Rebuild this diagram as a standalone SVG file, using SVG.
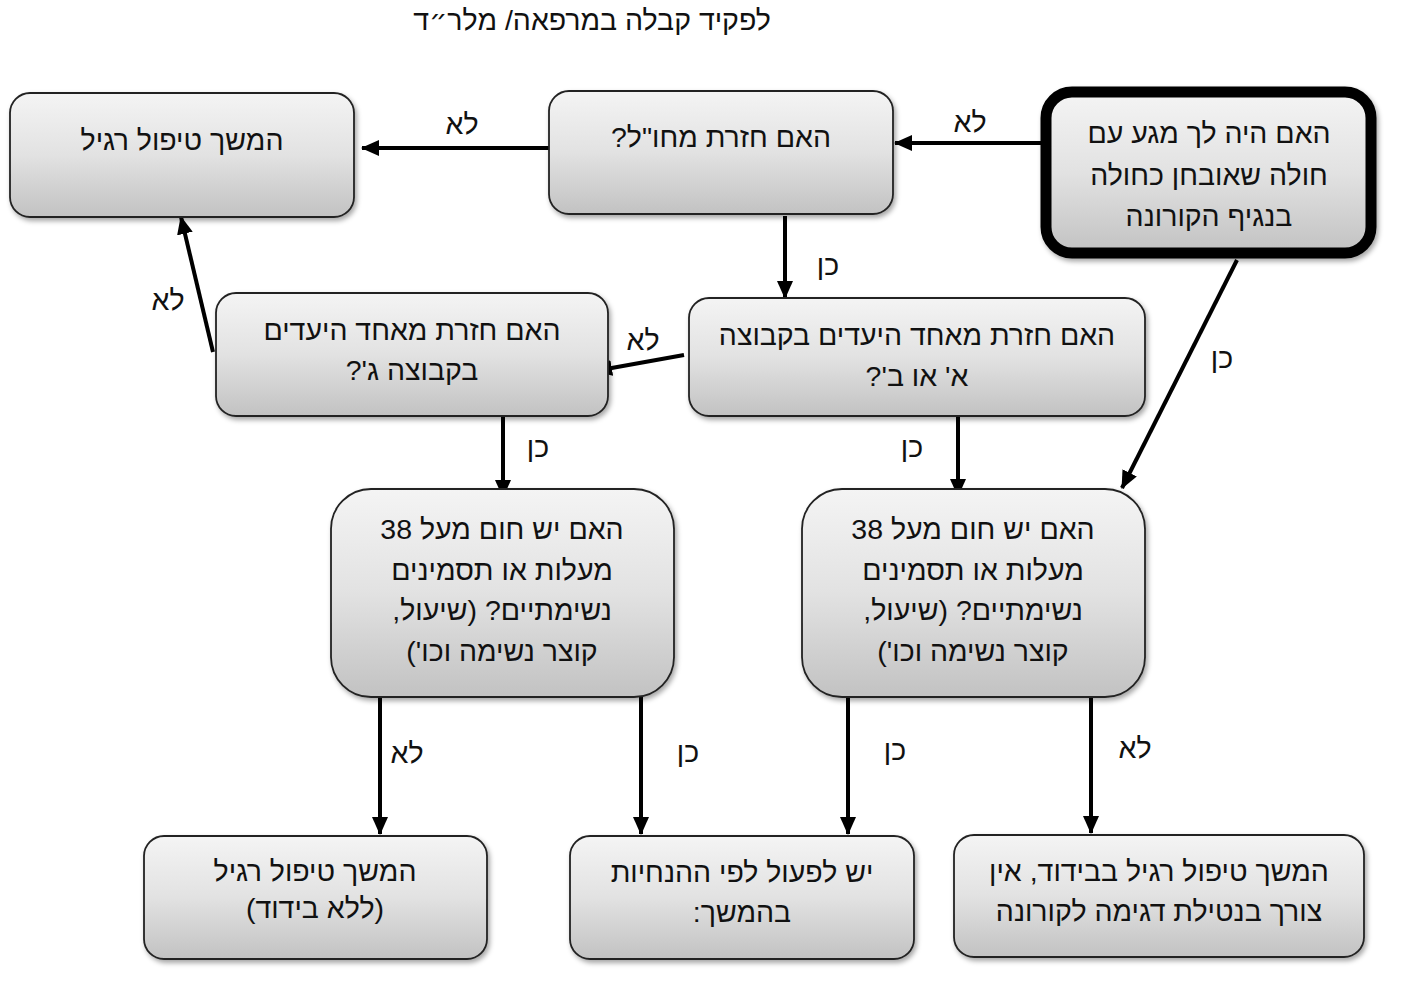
<svg xmlns="http://www.w3.org/2000/svg" width="1418" height="982" viewBox="0 0 1418 982">
<defs>
<linearGradient id="g" x1="0" y1="0" x2="0" y2="1">
<stop offset="0" stop-color="#f4f4f4"/>
<stop offset="0.5" stop-color="#e2e2e2"/>
<stop offset="1" stop-color="#c2c2c2"/>
</linearGradient>
<filter id="sh" x="-10%" y="-10%" width="125%" height="130%">
<feDropShadow dx="2" dy="3" stdDeviation="2.5" flood-color="#000" flood-opacity="0.35"/>
</filter>
<marker id="ah" markerUnits="userSpaceOnUse" markerWidth="18" markerHeight="16" refX="17" refY="8" orient="auto">
<path d="M0,0 L18,8 L0,16 z" fill="#000"/>
</marker>
<style>
.box{fill:url(#g);stroke:#222;stroke-width:1.8;filter:url(#sh)}
.thick{fill:url(#g);stroke:#000;stroke-width:11;filter:url(#sh)}
text{font-family:"Liberation Sans","DejaVu Sans",Arial,sans-serif;font-size:28.5px;fill:#111;text-anchor:middle;direction:rtl;unicode-bidi:embed}
.c{fill:none;stroke:#000;stroke-width:4;marker-end:url(#ah)}
</style>
</defs>
<text x="592" y="30">לפקיד קבלה במרפאה/ מלר<tspan style="font-family:'DejaVu Sans',sans-serif">״</tspan>ד</text>

<g id="connectors">
<path class="c" d="M1042,143 L895,143"/>
<path class="c" d="M549,148 L362,148"/>
<path class="c" d="M785,216 L785,298"/>
<path class="c" d="M684,355 L595,371"/>
<path class="c" d="M213,352 L181,217"/>
<path class="c" d="M1237,260 L1122,488"/>
<path class="c" d="M958,416 L958,496"/>
<path class="c" d="M503,416 L503,497"/>
<path class="c" d="M380,697 L380,834"/>
<path class="c" d="M641,697 L641,834"/>
<path class="c" d="M848,697 L848,834"/>
<path class="c" d="M1091,697 L1091,833"/>
<text x="970" y="132">לא</text>
<text x="462" y="134">לא</text>
<text x="643" y="350">לא</text>
<text x="168" y="310">לא</text>
<text x="407" y="763">לא</text>
<text x="1135" y="758">לא</text>
<text x="828" y="275">כן</text>
<text x="1222" y="368">כן</text>
<text x="912" y="457">כן</text>
<text x="538" y="457">כן</text>
<text x="688" y="762">כן</text>
<text x="895" y="760">כן</text>
</g>

<g id="n-contact">
<rect class="thick" x="1046" y="92" width="325" height="161" rx="26"/>
<text x="1209" y="143">האם היה לך מגע עם</text>
<text x="1209" y="185">חולה שאובחן כחולה</text>
<text x="1209" y="226">בנגיף הקורונה</text>
</g>

<g id="n-abroad">
<rect class="box" x="549" y="91" width="344" height="123" rx="20"/>
<text x="721" y="147">האם חזרת מחו"ל?</text>
</g>

<g id="n-regular-top">
<rect class="box" x="10" y="93" width="344" height="124" rx="20"/>
<text x="182" y="150">המשך טיפול רגיל</text>
</g>

<g id="n-group-ab">
<rect class="box" x="689" y="298" width="456" height="118" rx="20"/>
<text x="917" y="345">האם חזרת מאחד היעדים בקבוצה</text>
<text x="917" y="386">א' או ב'?</text>
</g>

<g id="n-group-c">
<rect class="box" x="216" y="293" width="392" height="123" rx="20"/>
<text x="412" y="340">האם חזרת מאחד היעדים</text>
<text x="412" y="380">בקבוצה ג'?</text>
</g>

<g id="n-fever-left">
<rect class="box" x="331" y="489" width="343" height="208" rx="40"/>
<text x="502" y="539">האם יש חום מעל 38</text>
<text x="502" y="580">מעלות או תסמינים</text>
<text x="502" y="620">נשימתיים? (שיעול,</text>
<text x="502" y="661">קוצר נשימה וכו')</text>
</g>

<g id="n-fever-right">
<rect class="box" x="802" y="489" width="343" height="208" rx="40"/>
<text x="973" y="539">האם יש חום מעל 38</text>
<text x="973" y="580">מעלות או תסמינים</text>
<text x="973" y="620">נשימתיים? (שיעול,</text>
<text x="973" y="661">קוצר נשימה וכו')</text>
</g>

<g id="n-no-isolation">
<rect class="box" x="144" y="836" width="343" height="123" rx="20"/>
<text x="315" y="881">המשך טיפול רגיל</text>
<text x="315" y="918">(ללא בידוד)</text>
</g>

<g id="n-guidelines">
<rect class="box" x="570" y="836" width="344" height="123" rx="20"/>
<text x="742" y="882">יש לפעול לפי ההנחיות</text>
<text x="742" y="922">בהמשך:</text>
</g>

<g id="n-isolation">
<rect class="box" x="954" y="835" width="410" height="122" rx="20"/>
<text x="1159" y="881">המשך טיפול רגיל בבידוד, אין</text>
<text x="1159" y="921">צורך בנטילת דגימה לקורונה</text>
</g>
</svg>
